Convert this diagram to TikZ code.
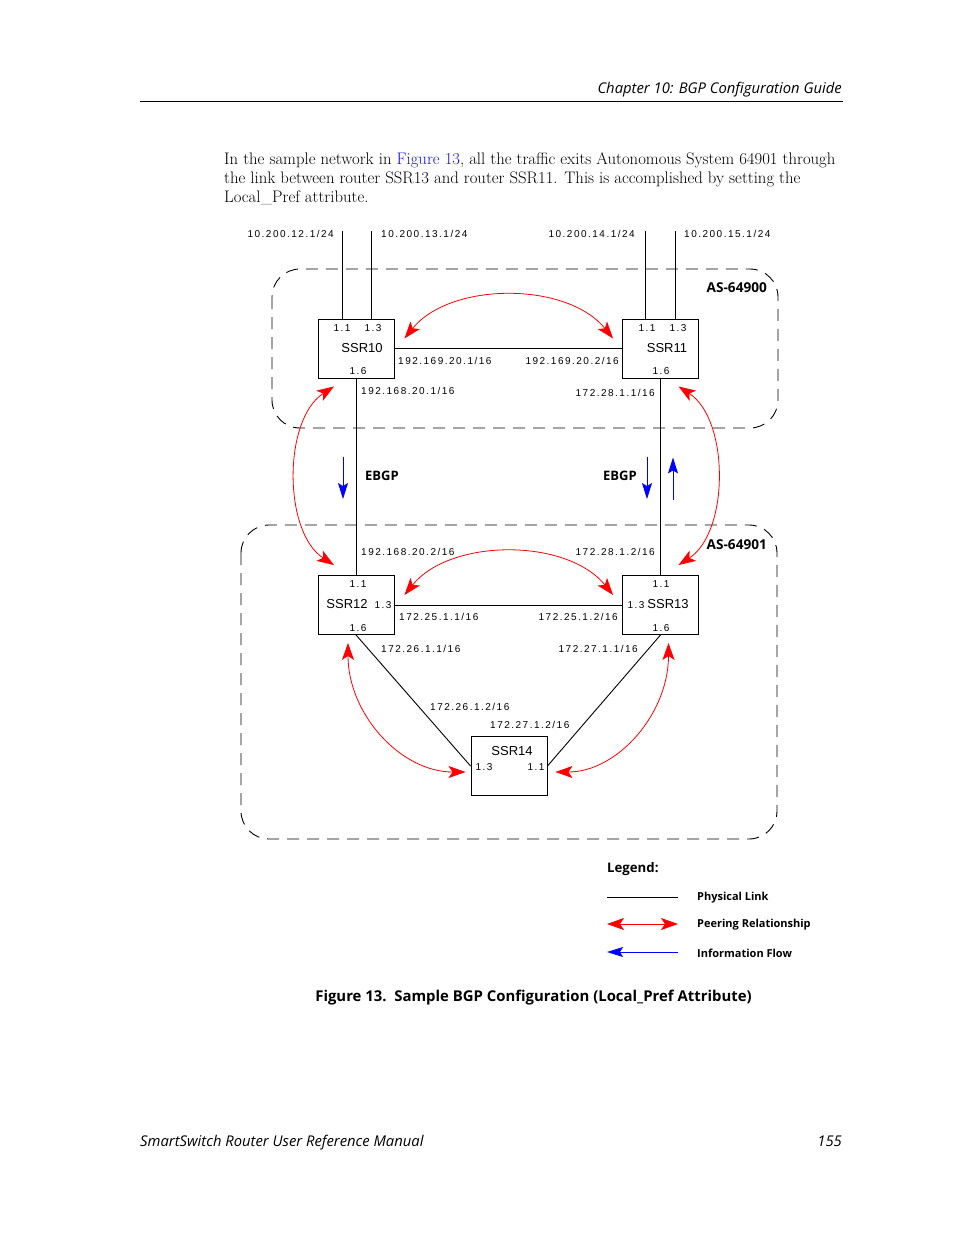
\documentclass[tikz,border=0pt]{standalone}
\usepackage{fontspec}
\usetikzlibrary{arrows.meta}
\newfontfamily\lblfont[LetterSpace=15]{Liberation Sans}
\newfontfamily\helfont{Liberation Sans}
\newfontfamily\frufont{Open Sans}
\definecolor{refblue}{RGB}{20,20,235}
\definecolor{flowblue}{RGB}{0,0,255}
\definecolor{peerred}{RGB}{255,0,0}
\begin{document}
\begin{tikzpicture}[x=1pt,y=-1pt,
  router/.style={draw,line width=0.9pt,minimum width=76pt,minimum height=59pt,inner sep=0pt},
  lab/.style={font=\lblfont\fontsize{10}{12}\selectfont,inner sep=0pt},
  rname/.style={font=\helfont\fontsize{13}{15}\selectfont,inner sep=0pt},
  boldlab/.style={font=\frufont\bfseries\fontsize{13}{15}\selectfont,inner sep=0pt},
  leglab/.style={font=\frufont\bfseries\fontsize{11}{13}\selectfont,inner sep=0pt,anchor=west},
  link/.style={line width=0.9pt},
  asbox/.style={draw,line width=0.9pt,dash pattern=on 12pt off 8pt,rounded corners=28pt},
  peer/.style={peerred,line width=0.8pt,{Stealth[length=17pt,width=12pt,inset=4pt]}-{Stealth[length=17pt,width=12pt,inset=4pt]}},
  flow/.style={flowblue,line width=0.9pt,-{Stealth[length=16pt,width=10pt,inset=3pt]}},
  body/.style={font=\fontsize{16.7}{19}\selectfont,inner sep=0pt,anchor=base west},
  pagefont/.style={font=\frufont\itshape\fontsize{14.8}{17}\selectfont,inner sep=0pt}
]
\useasboundingbox (0,0) rectangle (954,1235);

% header / footer
\node[pagefont,anchor=base east] (hdr) at (842,93) {Chapter 10: BGP Configuration Guide};
\coordinate (rl) at (140,101);
\coordinate (rr) at (843,101);
\draw[line width=0.9pt] (rl) -- (rr);
\node[pagefont,anchor=base west] (ftl) at (140,1146) {SmartSwitch Router User Reference Manual};
\node[pagefont,anchor=base east] (ftr) at (842,1146) {155};

% body text
\node[body] (b1) at (224,164) {In the sample network in \textcolor{refblue}{Figure 13}, all the traffic exits Autonomous System 64901 through};
\node[body] (b2) at (224,183) {the link between router SSR13 and router SSR11. This is accomplished by setting the};
\node[body] (b3) at (224,202) {Local\_Pref attribute.};

% AS boxes
\draw[asbox] (272,269) rectangle (778,428);
\draw[asbox] (241,525) rectangle (777,839);
\node[boldlab,anchor=east,font=\frufont\bfseries\fontsize{13.6}{15}\selectfont] (as0) at (767,288) {AS-64900};
\node[boldlab,anchor=east,font=\frufont\bfseries\fontsize{13.6}{15}\selectfont] (as1) at (767,545) {AS-64901};

% routers
\node[router] (ssr10) at (356,348.5) {};
\node[router] (ssr11) at (660.5,348.5) {};
\node[router] (ssr12) at (356,605) {};
\node[router] (ssr13) at (660.5,605) {};
\node[router] (ssr14) at (509,766) {};

\node[rname] (n10) at (362,348.5) {SSR10};
\node[rname] (n11) at (667,348.5) {SSR11};
\node[rname] (n12) at (347,604.5) {SSR12};
\node[rname] (n13) at (668,604.5) {SSR13};
\node[rname] (n14) at (512,751.5) {SSR14};

% ports
\node[lab] (p10a) at (342,328.5) {1.1};
\node[lab] (p10b) at (373,328.5) {1.3};
\node[lab] (p10c) at (358,371.5) {1.6};
\node[lab] (p11a) at (647,328.5) {1.1};
\node[lab] (p11b) at (678,328.5) {1.3};
\node[lab] (p11c) at (661,371.5) {1.6};
\node[lab] (p12a) at (358,584.5) {1.1};
\node[lab] (p12b) at (383,605.5) {1.3};
\node[lab] (p12c) at (358,628.5) {1.6};
\node[lab] (p13a) at (661,584.5) {1.1};
\node[lab] (p13b) at (636,605.5) {1.3};
\node[lab] (p13c) at (661,628.5) {1.6};
\node[lab] (p14a) at (484,767.5) {1.3};
\node[lab] (p14b) at (536,767.5) {1.1};

% stub networks
\coordinate (s1) at (342,231);
\coordinate (s2) at (371,231);
\coordinate (s3) at (645,231);
\coordinate (s4) at (675,231);
\draw[link] (s1) -- (s1 |- ssr10.north);
\draw[link] (s2) -- (s2 |- ssr10.north);
\draw[link] (s3) -- (s3 |- ssr11.north);
\draw[link] (s4) -- (s4 |- ssr11.north);
\node[lab,anchor=east] (ip1) at (334,233.5) {10.200.12.1/24};
\node[lab,anchor=west] (ip2) at (381,233.5) {10.200.13.1/24};
\node[lab,anchor=east] (ip3) at (635,233.5) {10.200.14.1/24};
\node[lab,anchor=west] (ip4) at (684,233.5) {10.200.15.1/24};

% physical links
\draw[link] (ssr10.east) -- (ssr11.west);
\draw[link] (ssr12.east) -- (ssr13.west);
\draw[link] (ssr10.south) -- (ssr12.north);
\draw[link] (ssr11.south) -- (ssr13.north);
\draw[link] (ssr12.south) -- (ssr14.west);
\draw[link] (ssr13.south) -- (ssr14.east);

% link addresses
\node[lab,anchor=west] (a1) at (398,360.5) {192.169.20.1/16};
\node[lab,anchor=east] (a2) at (619,360.5) {192.169.20.2/16};
\node[lab,anchor=west] (a3) at (361,390.5) {192.168.20.1/16};
\node[lab,anchor=east] (a4) at (655,392.5) {172.28.1.1/16};
\node[lab,anchor=west] (a5) at (361,551.5) {192.168.20.2/16};
\node[lab,anchor=east] (a6) at (655,551.5) {172.28.1.2/16};
\node[lab,anchor=west] (a7) at (399,616.5) {172.25.1.1/16};
\node[lab,anchor=east] (a8) at (618,616.5) {172.25.1.2/16};
\node[lab,anchor=west] (a9) at (381,648.5) {172.26.1.1/16};
\node[lab,anchor=east] (a10) at (638,648.5) {172.27.1.1/16};
\node[lab,anchor=west] (a11) at (430,706.5) {172.26.1.2/16};
\node[lab,anchor=west] (a12) at (490,724.5) {172.27.1.2/16};

% EBGP
\node[boldlab,anchor=west] (e1) at (365,475.5) {EBGP};
\node[boldlab,anchor=east] (e2) at (637,475.5) {EBGP};
\draw[flow] ([shift={(-13,79)}]ssr10.south) -- ([shift={(-13,-76)}]ssr12.north);
\draw[flow] ([shift={(-13.5,79)}]ssr11.south) -- ([shift={(-13.5,-76)}]ssr13.north);
\draw[flow] ([shift={(12.5,-75)}]ssr13.north) -- ([shift={(12.5,79)}]ssr11.south);

% peering
\draw[peer] ([shift={(10,-10)}]ssr10.east) .. controls +(46,-57) and +(-46,-57) .. ([shift={(-9,-10)}]ssr11.west);
\draw[peer] ([shift={(10,-10)}]ssr12.east) .. controls +(46,-57) and +(-46,-57) .. ([shift={(-9,-10)}]ssr13.west);
\draw[peer] ([shift={(-22,8)}]ssr10.south) .. controls +(-51,33) and +(-51,-33) .. ([shift={(-22,-10)}]ssr12.north);
\draw[peer] ([shift={(18,8)}]ssr11.south) .. controls +(51,33) and +(51,-33) .. ([shift={(18,-10)}]ssr13.north);
\draw[peer] ([shift={(-8,8)}]ssr12.south) .. controls +(0,71) and +(-65,0) .. ([shift={(-5,6)}]ssr14.west);
\draw[peer] ([shift={(8,8)}]ssr13.south) .. controls +(0,71) and +(62,0) .. ([shift={(8,6)}]ssr14.east);

% legend
\node[font=\frufont\bfseries\fontsize{13.2}{15}\selectfont,inner sep=0pt,anchor=west] (leg) at (607,869.5) {Legend:};
\coordinate (l1a) at (607,897);
\coordinate (l1b) at (678,897);
\coordinate (l2a) at (607,924);
\coordinate (l2b) at (678,924);
\coordinate (l3a) at (607,952);
\coordinate (l3b) at (678,952);
\draw[link] (l1a) -- (l1b);
\draw[peer] (l2a) -- (l2b);
\draw[flow] (l3b) -- (l3a);
\node[leglab] (lt1) at (697,897.5) {Physical Link};
\node[leglab] (lt2) at (697,924.5) {Peering Relationship};
\node[leglab] (lt3) at (697,953) {Information Flow};

% caption
\node[font=\frufont\bfseries\fontsize{14.9}{17}\selectfont,inner sep=0pt] (cap) at (533.5,997.5) {Figure 13.\ \ Sample BGP Configuration (Local\_Pref Attribute)};
\end{tikzpicture}
\end{document}
